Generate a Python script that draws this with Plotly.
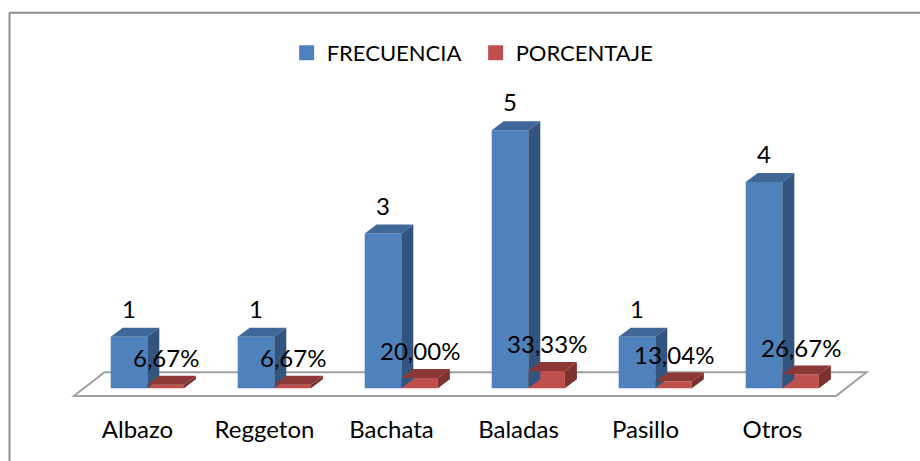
import plotly.graph_objects as go

categories = ['Albazo', 'Reggeton', 'Bachata', 'Baladas', 'Pasillo', 'Otros']
frecuencia = [1, 1, 3, 5, 1, 4]
porcentaje = [0.0667, 0.0667, 0.20, 0.3333, 0.1304, 0.2667]

W, H = 920, 461
BOTTOM_MARGIN = 56
PX_X = 127.0     # pixels per category
PX_Y = 51.6      # pixels per unit
ZERO_X = 137.5   # pixel of the first category
ZERO_Y = 388.3   # pixel of value 0
BAR = 36.6 / PX_X
DX = 12 / PX_X   # 3d depth
DY = 9 / PX_Y
BLUE_OFF = (110.7 - ZERO_X) / PX_X
RED_OFF = BLUE_OFF + BAR
FONT = 'Lato'
BLUE = '#4f81bd'
RED = '#c0504d'

xs = list(range(len(categories)))
plot_h = H - BOTTOM_MARGIN
x_range = [-ZERO_X / PX_X, (W - ZERO_X) / PX_X]
y_range = [(ZERO_Y - plot_h) / PX_Y, ZERO_Y / PX_Y]


def add_faces(fig, values, offset, top_color, side_color):
    # side and top of each box, worked out from the bar value
    for x, v in zip(xs, values):
        x0 = x + offset
        x1 = x0 + BAR
        fig.add_trace(go.Scatter(
            x=[x1, x1 + DX, x1 + DX, x1, x1],
            y=[0, DY, v + DY, v, 0],
            mode='lines', fill='toself', fillcolor=side_color,
            line=dict(width=0), showlegend=False, hoverinfo='skip'))
        fig.add_trace(go.Scatter(
            x=[x0, x1, x1 + DX, x0 + DX, x0],
            y=[v, v, v + DY, v + DY, v],
            mode='lines', fill='toself', fillcolor=top_color,
            line=dict(width=0), showlegend=False, hoverinfo='skip'))


fig = go.Figure()
add_faces(fig, frecuencia, BLUE_OFF, '#3f6797', '#32557f')
add_faces(fig, porcentaje, RED_OFF, '#8c3836', '#7d3230')
fig.add_trace(go.Bar(x=xs, y=frecuencia, width=BAR, offset=BLUE_OFF, name='FRECUENCIA',
                     showlegend=False, marker=dict(color=BLUE, line=dict(width=0))))
fig.add_trace(go.Bar(x=xs, y=porcentaje, width=BAR, offset=RED_OFF, name='PORCENTAJE',
                     showlegend=False, marker=dict(color=RED, line=dict(width=0))))
# empty traces only for the bigger legend squares
for name, color in [('FRECUENCIA', BLUE), ('PORCENTAJE', RED)]:
    fig.add_trace(go.Scatter(x=[None], y=[None], mode='markers', name=name,
                             marker=dict(symbol='square', size=15, color=color)))

# floor of the 3d chart
f_left = -0.5
f_right = len(categories) - 0.5
f_low = -7.7 / PX_Y
f_high = 16 / PX_Y
f_dx = 30.5 / PX_X
fig.add_shape(type='path', layer='below',
              path=f'M {f_left} {f_low} L {f_right} {f_low} L {f_right + f_dx} {f_high} '
                   f'L {f_left + f_dx} {f_high} Z',
              line=dict(color='#a0a0a0', width=2), fillcolor='white')

# only the top and left of the chart frame show
frame = dict(color='#8e8e8e', width=2)
fig.add_shape(type='line', xref='paper', yref='paper', x0=9.5 / W, x1=1,
              y0=(plot_h - 12.7) / plot_h, y1=(plot_h - 12.7) / plot_h, line=frame)
fig.add_shape(type='line', xref='paper', yref='paper', x0=9.5 / W, x1=9.5 / W,
              y0=-BOTTOM_MARGIN / plot_h, y1=(plot_h - 12.7) / plot_h, line=frame)

for x, v in zip(xs, frecuencia):
    fig.add_annotation(x=x + BLUE_OFF + BAR / 2, y=v, text=str(v), showarrow=False,
                       yanchor='middle', yshift=28.5, font=dict(family=FONT, size=24, color='black'))
for x, v in zip(xs, porcentaje):
    label = f'{v * 100:.2f}'.replace('.', ',') + '%'
    fig.add_annotation(x=x + RED_OFF + BAR / 2, y=v, text=label, showarrow=False,
                       yanchor='middle', yshift=27.5, font=dict(family=FONT, size=24, color='black'))

fig.update_xaxes(range=x_range, tickmode='array', tickvals=xs, ticktext=categories,
                 showgrid=False, zeroline=False, showline=False, ticks='',
                 ticklabelstandoff=8, tickfont=dict(family=FONT, size=24, color='black'))
fig.update_yaxes(range=y_range, showgrid=False, zeroline=False, showline=False,
                 showticklabels=False, ticks='')
fig.update_layout(
    width=W, height=H, margin=dict(l=0, r=0, t=0, b=BOTTOM_MARGIN),
    paper_bgcolor='white', plot_bgcolor='white', barmode='overlay',
    font=dict(family=FONT, size=22, color='black'),
    legend=dict(orientation='h', x=0.517, xanchor='center', y=0.869, yanchor='middle',
                entrywidth=144, font=dict(family=FONT, size=22), bgcolor='rgba(0,0,0,0)'),
)

# the default body margin would push the figure 8px off
fig.write_html("out.html", config=dict(displayModeBar=False),
               post_script="document.body.style.margin='0';")
